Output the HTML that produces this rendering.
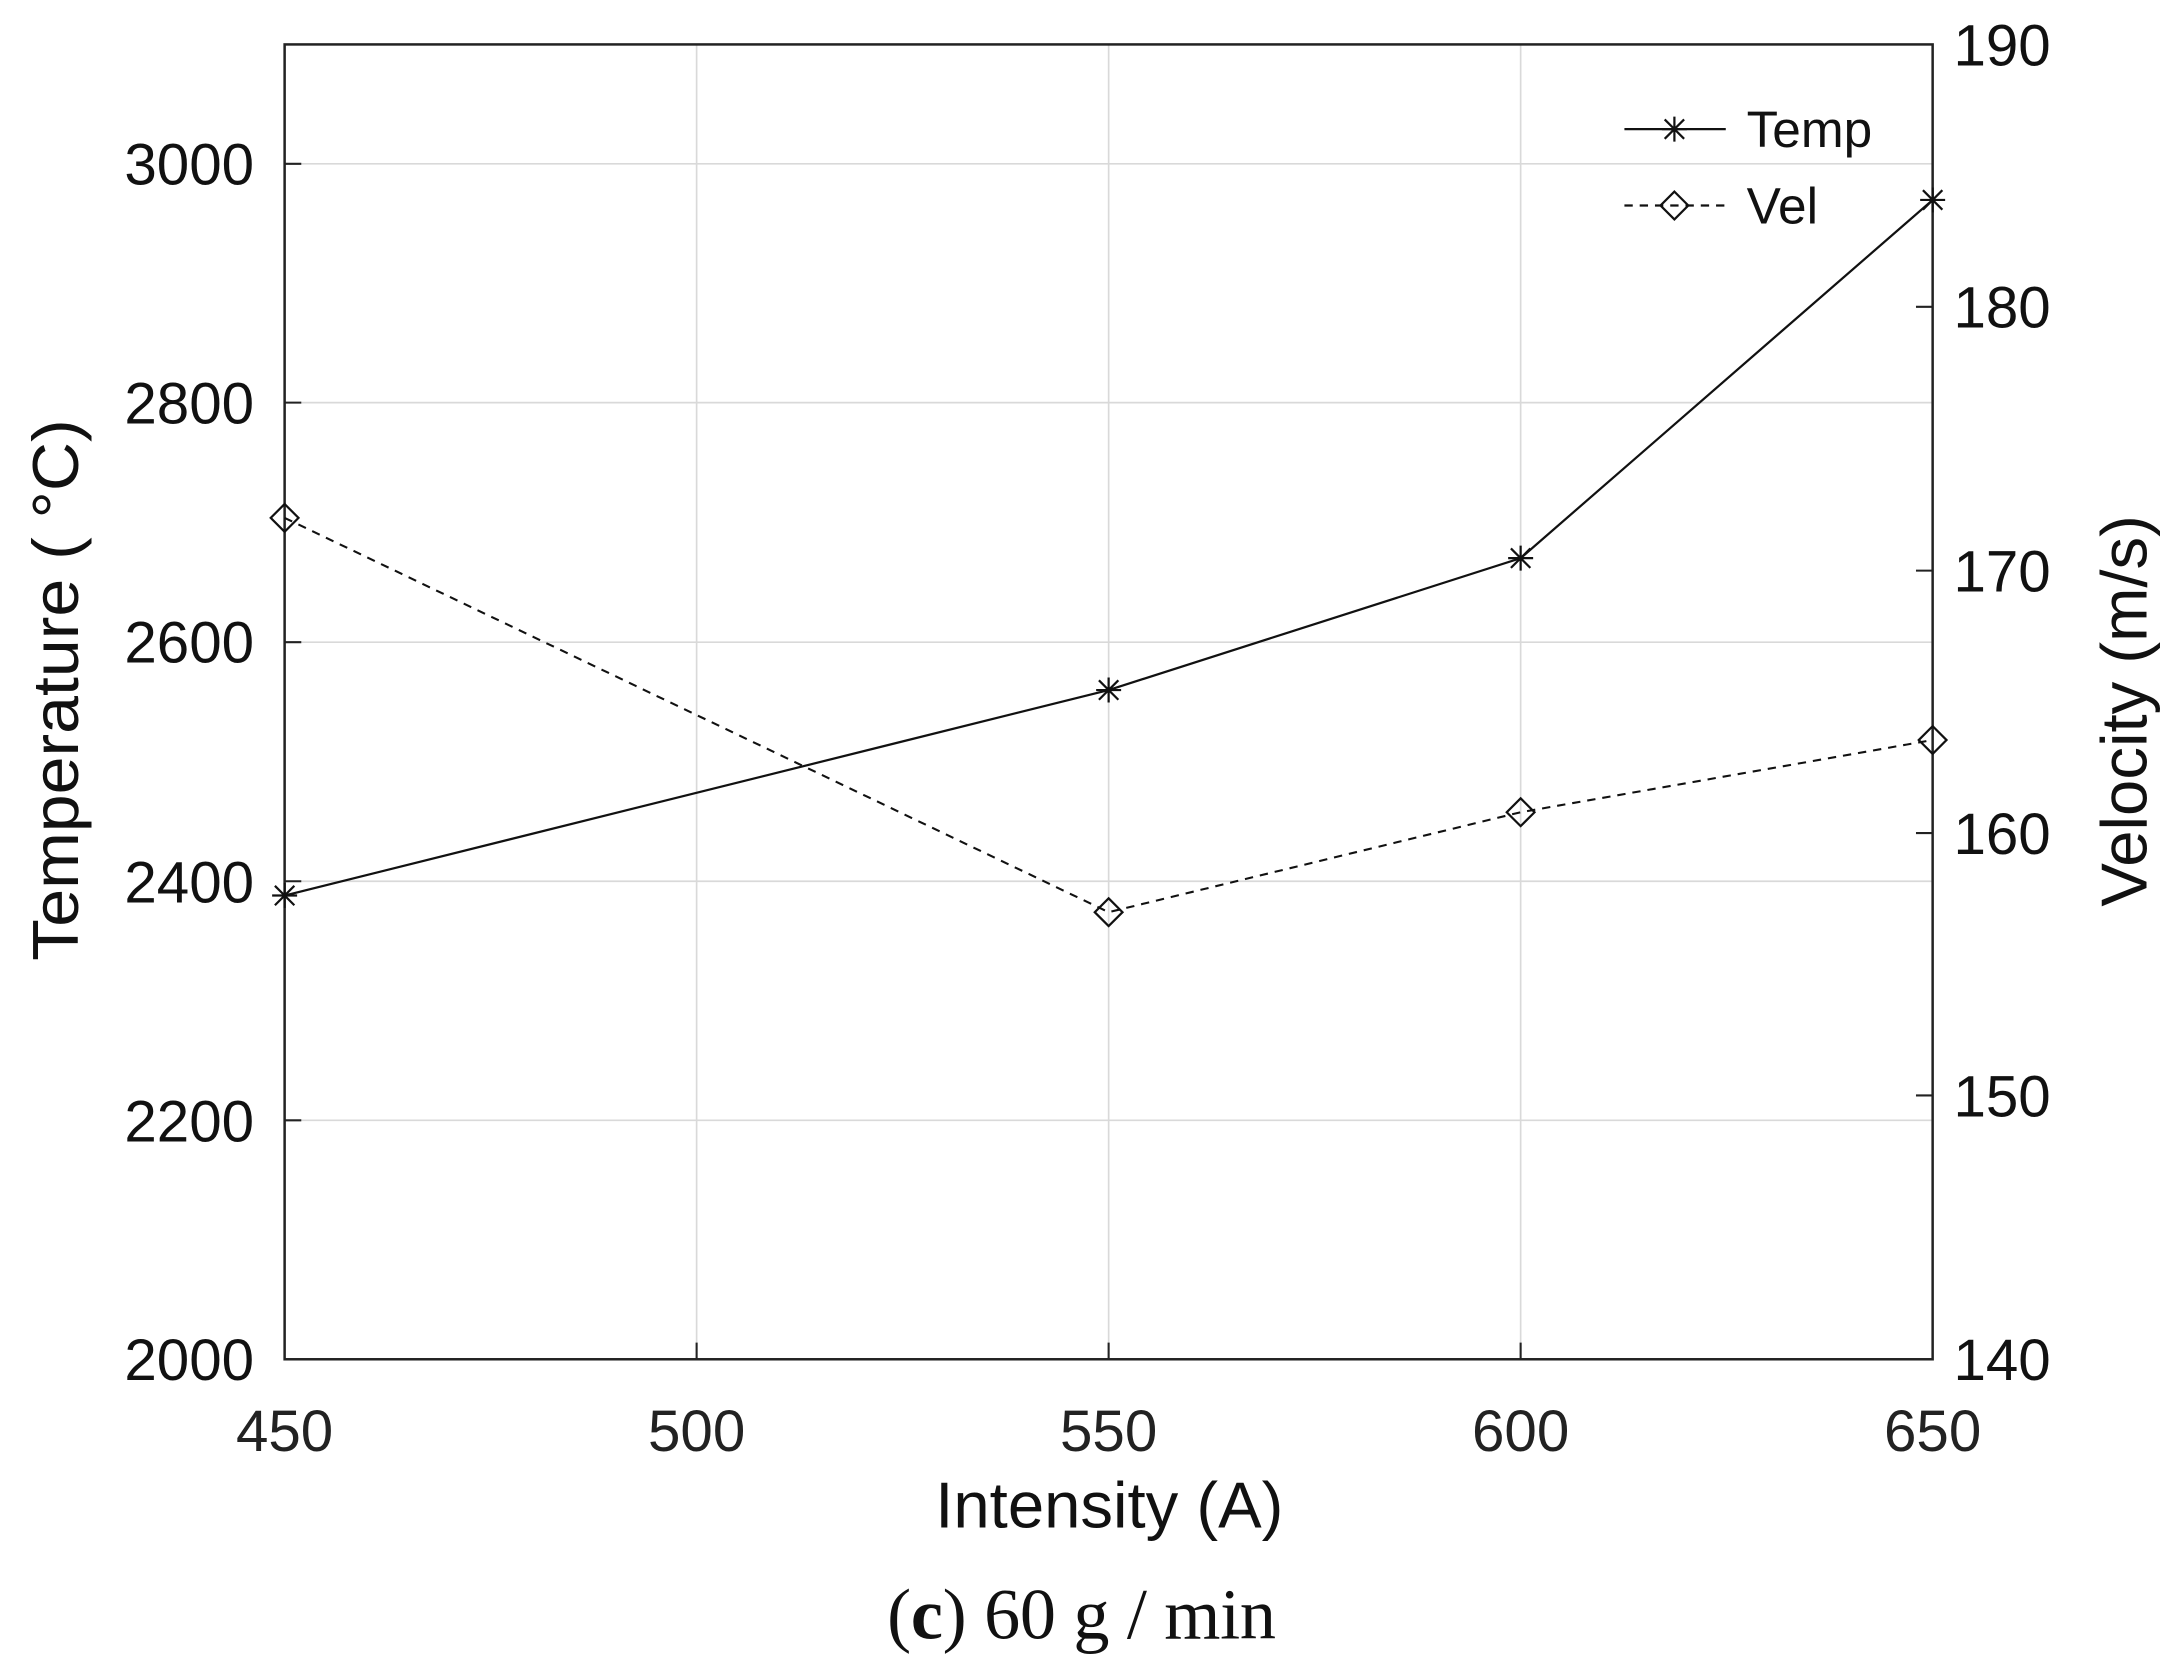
<!DOCTYPE html>
<html><head><meta charset="utf-8"><style>html,body{margin:0;padding:0;background:#fff}svg{display:block}</style></head>
<body>
<svg width="2177" height="1675" viewBox="0 0 1568 1206.4" preserveAspectRatio="none" xmlns="http://www.w3.org/2000/svg" font-family="Liberation Sans, sans-serif">
<defs><path id="st" d="M-9,0H9M0,-9V9M-7,-7L7,7M-7,7L7,-7"/></defs>
<rect width="1568" height="1206.4" fill="#fff"/>
<g stroke="#d9d9d9" stroke-width="1.2">
<line x1="205" y1="118" x2="1392" y2="118"/>
<line x1="205" y1="290" x2="1392" y2="290"/>
<line x1="205" y1="462.5" x2="1392" y2="462.5"/>
<line x1="205" y1="634.7" x2="1392" y2="634.7"/>
<line x1="205" y1="806.9" x2="1392" y2="806.9"/>
<line x1="501.75" y1="32" x2="501.75" y2="979"/>
<line x1="798.5" y1="32" x2="798.5" y2="979"/>
<line x1="1095.25" y1="32" x2="1095.25" y2="979"/>
</g>
<rect x="205" y="32" width="1187" height="947" fill="none" stroke="#222" stroke-width="1.8"/>
<g stroke="#222" stroke-width="1.5">
<line x1="205" y1="118" x2="217" y2="118"/><line x1="205" y1="290" x2="217" y2="290"/><line x1="205" y1="462.5" x2="217" y2="462.5"/><line x1="205" y1="634.7" x2="217" y2="634.7"/><line x1="205" y1="806.9" x2="217" y2="806.9"/>
<line x1="1392" y1="221" x2="1380" y2="221"/><line x1="1392" y1="411" x2="1380" y2="411"/><line x1="1392" y1="600" x2="1380" y2="600"/><line x1="1392" y1="789" x2="1380" y2="789"/>
<line x1="501.75" y1="979" x2="501.75" y2="967"/><line x1="798.5" y1="979" x2="798.5" y2="967"/><line x1="1095.25" y1="979" x2="1095.25" y2="967"/>
</g>
<g font-size="42" fill="#111" text-anchor="end">
<text x="183" y="133">3000</text><text x="183" y="305">2800</text><text x="183" y="477">2600</text><text x="183" y="650">2400</text><text x="183" y="822">2200</text><text x="183" y="994">2000</text>
</g>
<g font-size="42" fill="#111" text-anchor="start">
<text x="1407" y="47">190</text><text x="1407" y="236">180</text><text x="1407" y="426">170</text><text x="1407" y="615">160</text><text x="1407" y="804">150</text><text x="1407" y="994">140</text>
</g>
<g font-size="42" fill="#222" text-anchor="middle">
<text x="205" y="1045">450</text><text x="501.75" y="1045">500</text><text x="798.5" y="1045">550</text><text x="1095.25" y="1045">600</text><text x="1392" y="1045">650</text>
</g>
<text x="799" y="1100" font-size="47" text-anchor="middle" fill="#111">Intensity (A)</text>
<text transform="translate(56,497) rotate(-90)" font-size="47" text-anchor="middle" fill="#111" textLength="390" lengthAdjust="spacingAndGlyphs">Temperature ( °C)</text>
<text transform="translate(1546,512) rotate(-90)" font-size="47" text-anchor="middle" fill="#111">Velocity (m/s)</text>
<polyline points="205,645 798.5,497 1095.25,402 1392,144" fill="none" stroke="#111" stroke-width="1.6"/>
<polyline points="205,373 798.5,657 1095.25,585 1392,533" fill="none" stroke="#111" stroke-width="1.5" stroke-dasharray="6,5"/>
<g stroke="#111" stroke-width="1.6" fill="none">
<use href="#st" x="205" y="645"/><use href="#st" x="798.5" y="497"/><use href="#st" x="1095.25" y="402"/><use href="#st" x="1392" y="144"/>
<use href="#st" x="1206" y="93"/>
<path d="M205,363L215,373L205,383L195,373Z"/>
<path d="M798.5,647L808.5,657L798.5,667L788.5,657Z"/>
<path d="M1095.25,575L1105.25,585L1095.25,595L1085.25,585Z"/>
<path d="M1392,523L1402,533L1392,543L1382,533Z"/>
<path d="M1206,138L1216,148L1206,158L1196,148Z"/>
<line x1="1170" y1="93" x2="1243" y2="93"/>
<line x1="1170" y1="148" x2="1243" y2="148" stroke-dasharray="6,5"/>
</g>
<text x="1258" y="106" font-size="37" fill="#111">Temp</text>
<text x="1258" y="161" font-size="37" fill="#111">Vel</text>
<text x="779" y="1180" font-size="52" text-anchor="middle" fill="#111" font-family="Liberation Serif, serif" textLength="280" lengthAdjust="spacing">(<tspan font-weight="bold">c</tspan>) 60 g / min</text>
</svg>
</body></html>
